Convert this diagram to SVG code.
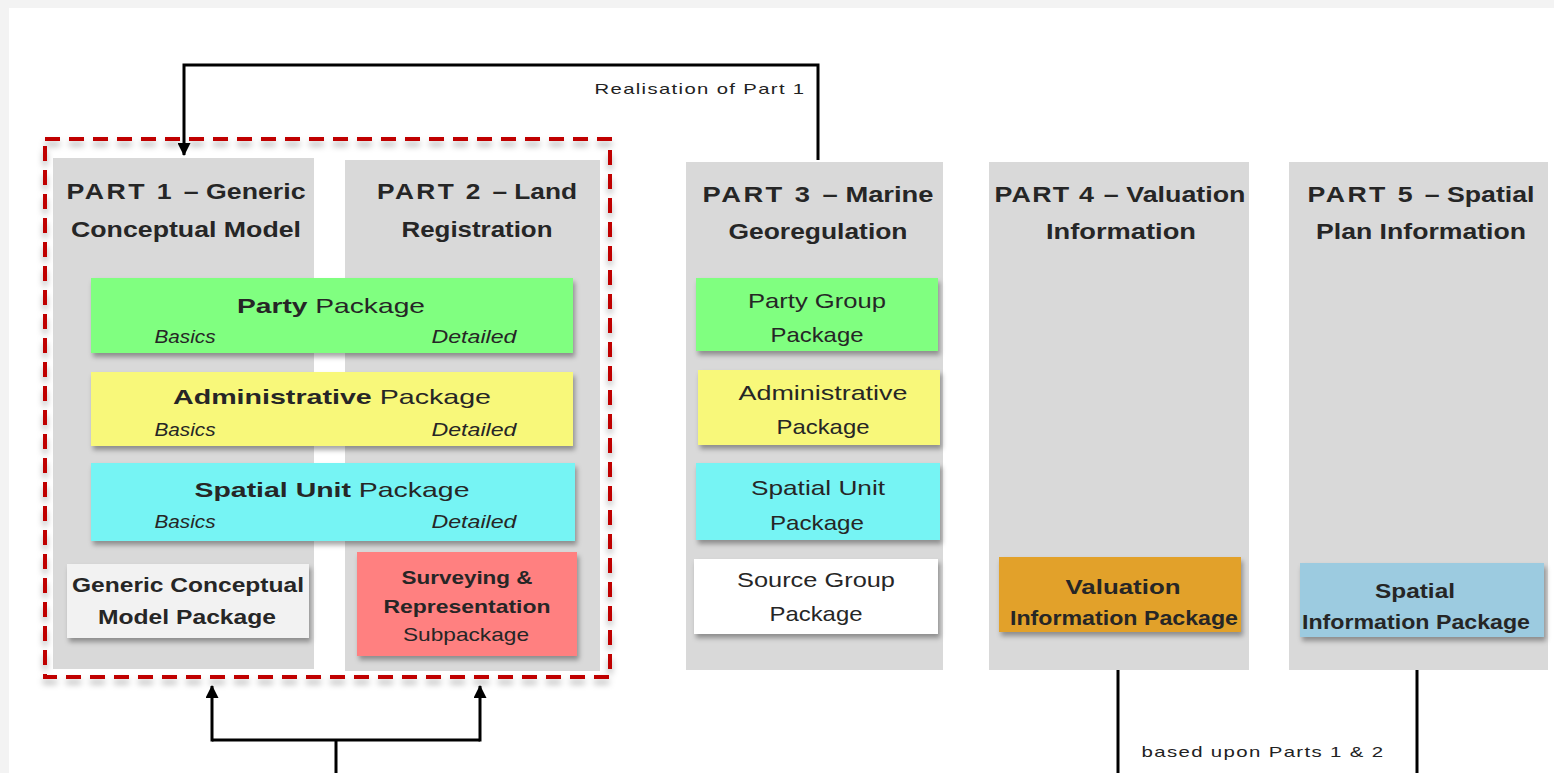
<svg xmlns="http://www.w3.org/2000/svg" width="1554" height="773" viewBox="0 0 1554 773">
<style>
text{font-family:"Liberation Sans",Arial,sans-serif;fill:#262626}
.t{font-weight:bold;font-size:22px}
.p{font-size:21px}
.b{font-weight:bold}
.i{font-style:italic;font-size:18px}
.lbl{font-size:15px;fill:#222;letter-spacing:1px}
.col{fill:#d9d9d9}
.pk{filter:url(#sh)}
.ln{fill:none;stroke:#000;stroke-width:3}
</style>
<defs>
<filter id="sh" x="-10%" y="-20%" width="120%" height="150%">
<feDropShadow dx="2" dy="4" stdDeviation="2.5" flood-color="#000" flood-opacity="0.35"/>
</filter>
<filter id="sh2" x="-5%" y="-5%" width="110%" height="110%">
<feDropShadow dx="0" dy="5" stdDeviation="3" flood-color="#000" flood-opacity="0.3"/>
</filter>
<marker id="ah" viewBox="0 0 13 13" refX="12" refY="6.5" markerWidth="13" markerHeight="13" markerUnits="userSpaceOnUse" orient="auto">
<path d="M0,0 L13,6.5 L0,13 Z" fill="#000"/>
</marker>
</defs>
<rect x="0" y="0" width="1554" height="773" fill="#f3f3f3"/>
<rect x="9" y="8" width="1545" height="765" fill="#fff"/>

<g id="part1">
<rect class="col" x="53" y="158" width="261" height="511"/>
<text class="t" x="186" y="199" text-anchor="middle" textLength="239" lengthAdjust="spacingAndGlyphs"><tspan style="letter-spacing:2px">PART 1 </tspan>– Generic</text>
<text class="t" x="186" y="237" text-anchor="middle" textLength="230" lengthAdjust="spacingAndGlyphs">Conceptual Model</text>
</g>
<g id="part2">
<rect class="col" x="345" y="160" width="255" height="511"/>
<text class="t" x="477" y="199" text-anchor="middle" textLength="200" lengthAdjust="spacingAndGlyphs"><tspan style="letter-spacing:2px">PART 2 </tspan>– Land</text>
<text class="t" x="477" y="237" text-anchor="middle" textLength="151" lengthAdjust="spacingAndGlyphs">Registration</text>
</g>
<g id="part3">
<rect class="col" x="686" y="162" width="257" height="508"/>
<text class="t" x="818" y="202" text-anchor="middle" textLength="231" lengthAdjust="spacingAndGlyphs"><tspan style="letter-spacing:2px">PART 3 </tspan>– Marine</text>
<text class="t" x="818" y="239" text-anchor="middle" textLength="179" lengthAdjust="spacingAndGlyphs">Georegulation</text>
</g>
<g id="part4">
<rect class="col" x="989" y="162" width="260" height="508"/>
<text class="t" x="1120" y="202" text-anchor="middle" textLength="251" lengthAdjust="spacingAndGlyphs"><tspan style="letter-spacing:1px">PART 4 </tspan>– Valuation</text>
<text class="t" x="1121" y="239" text-anchor="middle" textLength="150" lengthAdjust="spacingAndGlyphs">Information</text>
</g>
<g id="part5">
<rect class="col" x="1289" y="162" width="259" height="508"/>
<text class="t" x="1421" y="202" text-anchor="middle" textLength="227" lengthAdjust="spacingAndGlyphs"><tspan style="letter-spacing:2px">PART 5 </tspan>– Spatial</text>
<text class="t" x="1421" y="239" text-anchor="middle" textLength="210" lengthAdjust="spacingAndGlyphs">Plan Information</text>
</g>

<g id="boundary">
<rect x="45" y="139" width="565" height="538" fill="none" stroke="#c00000" stroke-width="4" stroke-dasharray="15 9" filter="url(#sh2)"/>
</g>

<g id="party-package">
<rect class="pk" x="91" y="278" width="482" height="75" fill="#80ff80"/>
<text class="p" x="331" y="313" text-anchor="middle" textLength="188" lengthAdjust="spacingAndGlyphs"><tspan class="b">Party</tspan> Package</text>
<text class="i" x="185" y="343" text-anchor="middle" textLength="61" lengthAdjust="spacingAndGlyphs">Basics</text>
<text class="i" x="474" y="343" text-anchor="middle" textLength="85" lengthAdjust="spacingAndGlyphs">Detailed</text>
</g>
<g id="administrative-package">
<rect class="pk" x="91" y="372" width="482" height="74" fill="#f8f87a"/>
<text class="p" x="332" y="404" text-anchor="middle" textLength="318" lengthAdjust="spacingAndGlyphs"><tspan class="b">Administrative</tspan> Package</text>
<text class="i" x="185" y="436" text-anchor="middle" textLength="61" lengthAdjust="spacingAndGlyphs">Basics</text>
<text class="i" x="474" y="436" text-anchor="middle" textLength="85" lengthAdjust="spacingAndGlyphs">Detailed</text>
</g>
<g id="spatial-unit-package">
<rect class="pk" x="91" y="463" width="484" height="78" fill="#76f4f4"/>
<text class="p" x="332" y="497" text-anchor="middle" textLength="275" lengthAdjust="spacingAndGlyphs"><tspan class="b">Spatial Unit</tspan> Package</text>
<text class="i" x="185" y="528" text-anchor="middle" textLength="61" lengthAdjust="spacingAndGlyphs">Basics</text>
<text class="i" x="474" y="528" text-anchor="middle" textLength="85" lengthAdjust="spacingAndGlyphs">Detailed</text>
</g>
<g id="generic-conceptual-model-package">
<rect class="pk" x="67" y="564" width="242" height="74" fill="#f2f2f2"/>
<text class="p b" x="188" y="592" text-anchor="middle" textLength="232" lengthAdjust="spacingAndGlyphs">Generic Conceptual</text>
<text class="p b" x="187" y="624" text-anchor="middle" textLength="178" lengthAdjust="spacingAndGlyphs">Model Package</text>
</g>
<g id="surveying-subpackage">
<rect class="pk" x="357" y="552" width="220" height="104" fill="#ff8080"/>
<text class="b" style="font-size:19px" x="467" y="584" text-anchor="middle" textLength="131" lengthAdjust="spacingAndGlyphs">Surveying &amp;</text>
<text class="b" style="font-size:19px" x="467" y="613" text-anchor="middle" textLength="167" lengthAdjust="spacingAndGlyphs">Representation</text>
<text style="font-size:19px" x="466" y="641" text-anchor="middle" textLength="126" lengthAdjust="spacingAndGlyphs">Subpackage</text>
</g>

<g id="party-group-package">
<rect class="pk" x="696" y="278" width="242" height="73" fill="#80ff80"/>
<text class="p" x="817" y="308" text-anchor="middle" textLength="138" lengthAdjust="spacingAndGlyphs">Party Group</text>
<text class="p" x="817" y="342" text-anchor="middle" textLength="93" lengthAdjust="spacingAndGlyphs">Package</text>
</g>
<g id="administrative-package-3">
<rect class="pk" x="698" y="370" width="242" height="75" fill="#f8f87a"/>
<text class="p" x="823" y="400" text-anchor="middle" textLength="169" lengthAdjust="spacingAndGlyphs">Administrative</text>
<text class="p" x="823" y="434" text-anchor="middle" textLength="93" lengthAdjust="spacingAndGlyphs">Package</text>
</g>
<g id="spatial-unit-package-3">
<rect class="pk" x="696" y="463" width="244" height="77" fill="#76f4f4"/>
<text class="p" x="818" y="495" text-anchor="middle" textLength="134" lengthAdjust="spacingAndGlyphs">Spatial Unit</text>
<text class="p" x="817" y="530" text-anchor="middle" textLength="94" lengthAdjust="spacingAndGlyphs">Package</text>
</g>
<g id="source-group-package">
<rect class="pk" x="694" y="559" width="244" height="75" fill="#ffffff"/>
<text class="p" x="816" y="587" text-anchor="middle" textLength="158" lengthAdjust="spacingAndGlyphs">Source Group</text>
<text class="p" x="816" y="621" text-anchor="middle" textLength="93" lengthAdjust="spacingAndGlyphs">Package</text>
</g>
<g id="valuation-information-package">
<rect class="pk" x="999" y="557" width="242" height="75" fill="#e2a12a"/>
<text class="p b" x="1123" y="594" text-anchor="middle" textLength="115" lengthAdjust="spacingAndGlyphs">Valuation</text>
<text class="p b" x="1124" y="625" text-anchor="middle" textLength="228" lengthAdjust="spacingAndGlyphs">Information Package</text>
</g>
<g id="spatial-information-package">
<rect class="pk" x="1300" y="563" width="244" height="74" fill="#9ccbe0"/>
<text class="p b" x="1415" y="598" text-anchor="middle" textLength="80" lengthAdjust="spacingAndGlyphs">Spatial</text>
<text class="p b" x="1416" y="629" text-anchor="middle" textLength="228" lengthAdjust="spacingAndGlyphs">Information Package</text>
</g>

<g id="connectors">
<path class="ln" d="M818,160 V65 H184 V155" marker-end="url(#ah)"/>
<text class="lbl" x="700" y="94" text-anchor="middle" textLength="211" lengthAdjust="spacingAndGlyphs">Realisation of Part 1</text>
<path class="ln" d="M336,773 V740"/>
<path class="ln" d="M212,740 H480"/>
<path class="ln" d="M212,741.5 V686" marker-end="url(#ah)"/>
<path class="ln" d="M480,741.5 V686" marker-end="url(#ah)"/>
<path class="ln" d="M1118,670 V773"/>
<path class="ln" d="M1417,670 V773"/>
<text class="lbl" x="1263" y="757" text-anchor="middle" textLength="243" lengthAdjust="spacingAndGlyphs">based upon Parts 1 &amp; 2</text>
</g>
</svg>
